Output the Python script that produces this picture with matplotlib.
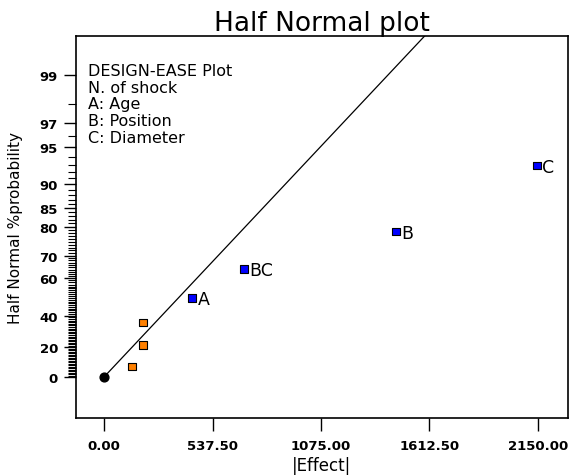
import math
import numpy as np
import matplotlib
matplotlib.use("Agg")
import matplotlib.pyplot as plt

plt.rcParams["font.family"] = "DejaVu Sans"

# effects (abs) and half-normal probabilities (%)
effect_names = ["", "", "", "A", "BC", "B", "C"]
effect_size = [139.0, 193.0, 193.0, 436.0, 693.0, 1446.0, 2145.0]
effect_prob = [7.14, 21.43, 35.71, 50.0, 64.29, 78.57, 92.86]
effect_color = ["#FF8000", "#FF8000", "#FF8000", "#0000FF", "#0000FF", "#0000FF", "#0000FF"]

origin_effect = [0.0]
origin_prob = [0.0]

# fitted line through origin
line_effect = [0.0, 1500.0]
line_prob = [0.0, 99.4]

x_ticks = [0.0, 537.5, 1075.0, 1612.5, 2150.0]
y_ticks = [0, 20, 40, 60, 70, 80, 85, 90, 95, 97, 99]

legend_lines = ["DESIGN-EASE Plot", "N. of shock", "A: Age", "B: Position", "C: Diameter"]

# half normal probability scale
zgrid = np.linspace(-4, 4, 8001)
pgrid = 100 * np.array([math.erf(z / math.sqrt(2)) for z in zgrid])

def fwd(p):
    return np.interp(p, pgrid, zgrid)

def inv(z):
    return np.interp(z, zgrid, pgrid)

fig = plt.figure(figsize=(5.77, 4.77), dpi=100)
ax = fig.add_axes([0.1317, 0.1216, 0.8527, 0.8008])
ax.set_yscale("function", functions=(fwd, inv))

# line extended across the plot
z_per_effect = fwd(line_prob[1]) / line_effect[1]
xs = np.linspace(0, 2300, 200)
ax.plot(xs, inv(xs * z_per_effect), color="black", lw=0.9, zorder=2)

ax.scatter(origin_effect, origin_prob, s=40, color="black", zorder=4)
ax.scatter(effect_size, effect_prob, s=28, marker="s", c=effect_color,
           edgecolors="black", linewidths=0.8, zorder=4)
for x, p, n in zip(effect_size, effect_prob, effect_names):
    if n:
        ax.annotate(n, (x, p), xytext=(4, -1), textcoords="offset points",
                    va="center", ha="left", fontsize=12.5)

ax.set_xlim(-139, 2299)
ax.set_ylim(inv(-0.35), inv(2.91))

ax.set_xticks(x_ticks)
ax.set_xticklabels(["%.2f" % v for v in x_ticks], fontsize=9.5, fontweight="bold")
ax.set_yticks(y_ticks)
ax.set_yticklabels([str(v) for v in y_ticks], fontsize=9.5, fontweight="bold")
minor = [v for v in range(1, 99) if v not in y_ticks]
ax.set_yticks(minor, minor=True)
ax.tick_params(axis="both", which="major", length=9, width=1, direction="out")
ax.tick_params(axis="x", which="major", pad=6)
ax.tick_params(axis="y", which="major", pad=4)
ax.tick_params(axis="y", which="minor", length=6, width=0.8, direction="out")
ax.tick_params(axis="x", which="minor", length=0)

ax.set_xlabel("|Effect|", fontsize=12, labelpad=3)
ax.set_ylabel("Half Normal %probability", fontsize=11, labelpad=12)
ax.set_title("Half Normal plot", fontsize=19, pad=2)

ax.text(0.025, 0.93, "\n".join(legend_lines), transform=ax.transAxes,
        fontsize=11.5, va="top", ha="left", linespacing=1.15)

for s in ax.spines.values():
    s.set_linewidth(1.2)

fig.savefig("out.png", dpi=100)
